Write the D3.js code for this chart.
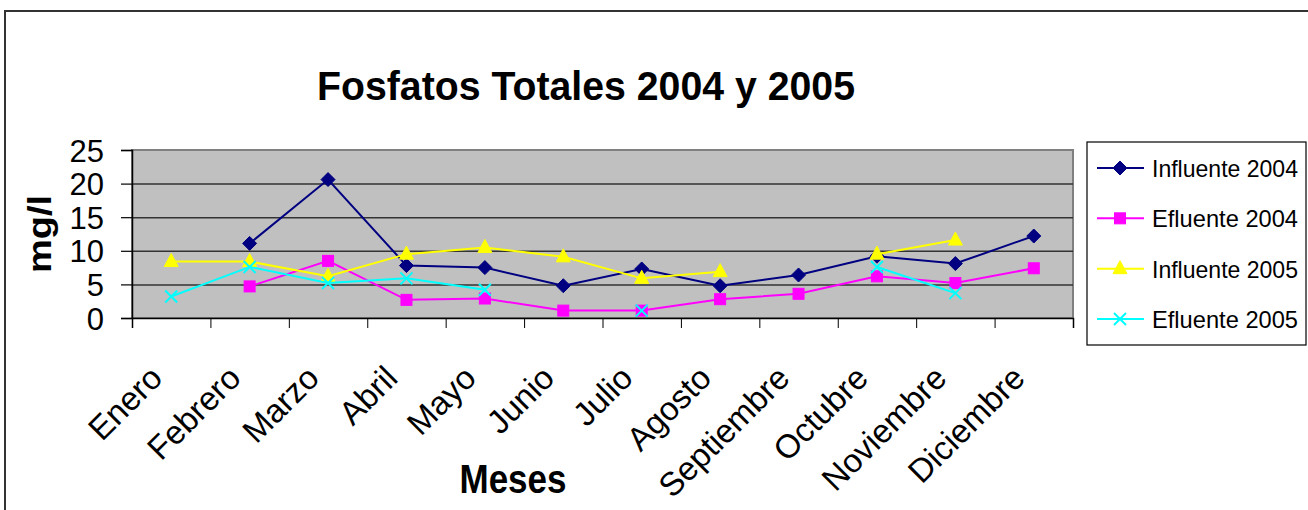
<!DOCTYPE html>
<html>
<head>
<meta charset="utf-8">
<script src="https://cdn.jsdelivr.net/npm/d3@7"></script>
<style>
  html, body { margin: 0; padding: 0; background: #fff; }
  svg { display: block; }
  text { font-family: "Liberation Sans", Arial, sans-serif; fill: #000; }
</style>
</head>
<body>
<svg id="chart" width="1308" height="510"></svg>
<script>
// ---- Data ----
const months = ["Enero","Febrero","Marzo","Abril","Mayo","Junio","Julio","Agosto","Septiembre","Octubre","Noviembre","Diciembre"];
const influente2004 = [null, 11.1, 20.6, 7.8, 7.5, 4.8, 7.3, 4.8, 6.4, 9.2, 8.1, 12.2];
const efluente2004  = [null, 4.7, 8.5, 2.7, 2.9, 1.1, 1.1, 2.8, 3.6, 6.2, 5.2, 7.4];
const influente2005 = [8.4, 8.4, 6.2, 9.5, 10.5, 9.1, 5.9, 6.9, null, 9.5, 11.6, null];
const efluente2005  = [3.2, 7.6, 5.2, 5.9, 4.2, null, 1.1, null, null, 7.6, 3.7, null];
const seriesNames = ["Influente 2004","Efluente 2004","Influente 2005","Efluente 2005"];
const yTicks = [0, 5, 10, 15, 20, 25];
const titleText = "Fosfatos Totales 2004 y 2005";
const xTitle = "Meses";
const yTitle = "mg/l";

const seriesValues = [influente2004, efluente2004, influente2005, efluente2005];
const colors = ["#000080", "#FF00FF", "#FFFF00", "#00FFFF"];
const markers = ["diamond", "square", "triangle", "x"];

// ---- Layout ----
const svg = d3.select("#chart");
const plot = { left: 132, right: 1073, top: 150, bottom: 318 };

// outer chart border
svg.append("rect")
  .attr("x", 5).attr("y", 11).attr("width", 1320).attr("height", 520)
  .attr("fill", "#fff").attr("stroke", "#333").attr("stroke-width", 2);

const x = d3.scaleBand().domain(months).range([plot.left, plot.right]).paddingInner(0).paddingOuter(0);
const xb = d3.scaleLinear().domain([0, months.length]).range([plot.left, plot.right]);
const y = d3.scaleLinear().domain([0, 25]).range([plot.bottom, plot.top]);

// plot area background
svg.append("rect")
  .attr("x", plot.left).attr("y", plot.top)
  .attr("width", plot.right - plot.left).attr("height", plot.bottom - plot.top)
  .attr("fill", "#C0C0C0").attr("stroke", "#808080").attr("stroke-width", 2);

// gridlines
const grid = svg.append("g").attr("transform", `translate(${plot.left},0)`)
  .call(d3.axisLeft(y).tickValues(yTicks.filter(v => v > 0 && v < 25)).tickSize(-(plot.right - plot.left)).tickFormat(""));
grid.select(".domain").remove();
grid.selectAll(".tick line").attr("stroke", "#333").attr("stroke-width", 1.5);

// y axis
const yAxis = svg.append("g").attr("transform", `translate(${plot.left},0)`)
  .call(d3.axisLeft(y).tickValues(yTicks).tickSize(11).tickPadding(17));
yAxis.select(".domain").attr("stroke", "#000").attr("stroke-width", 1.5);
yAxis.selectAll(".tick line").attr("stroke", "#000").attr("stroke-width", 1.2);
yAxis.selectAll(".tick text").attr("font-size", 31).attr("font-family", "Liberation Sans, Arial, sans-serif").attr("fill", "#000").attr("dy", "0.36em");

// x axis ticks (category boundaries)
const xAxisT = svg.append("g").attr("transform", `translate(0,${plot.bottom})`)
  .call(d3.axisBottom(xb).tickValues(d3.range(0, months.length + 1)).tickSize(10).tickFormat(""));
xAxisT.select(".domain").attr("stroke", "#000").attr("stroke-width", 1.5);
xAxisT.selectAll(".tick line").attr("stroke", "#000").attr("stroke-width", 1);

// x labels
const xAxisL = svg.append("g").attr("transform", `translate(0,${plot.bottom})`)
  .call(d3.axisBottom(x).tickSize(0).tickFormat(d => d));
xAxisL.select(".domain").remove();
xAxisL.selectAll(".tick text")
  .attr("font-size", 33).attr("font-family", "Liberation Sans, Arial, sans-serif").attr("fill", "#000")
  .attr("text-anchor", "end")
  .attr("x", 0).attr("y", 0).attr("dy", 0)
  .attr("transform", "translate(-7,62) rotate(-45)");

// title
svg.append("text").attr("x", 586).attr("y", 100).attr("text-anchor", "middle")
  .attr("font-size", 41).attr("font-weight", "bold")
  .attr("textLength", 538).attr("lengthAdjust", "spacingAndGlyphs")
  .text(titleText);

// axis titles
svg.append("text").attr("x", 513).attr("y", 493).attr("text-anchor", "middle")
  .attr("font-size", 40).attr("font-weight", "bold")
  .attr("textLength", 107).attr("lengthAdjust", "spacingAndGlyphs")
  .text(xTitle);

svg.append("text").attr("transform", "translate(51,234) rotate(-90)").attr("text-anchor", "middle")
  .attr("font-size", 34).attr("font-weight", "bold")
  .attr("textLength", 78).attr("lengthAdjust", "spacingAndGlyphs")
  .text(yTitle);

// marker drawing
function drawMarker(g, type, color, cx, cy) {
  if (type === "diamond") {
    g.append("path").attr("d", `M${cx},${cy-7}L${cx+7},${cy}L${cx},${cy+7}L${cx-7},${cy}Z`).attr("fill", color).attr("stroke", color);
  } else if (type === "square") {
    g.append("rect").attr("x", cx-5.5).attr("y", cy-5.5).attr("width", 11).attr("height", 11).attr("fill", color).attr("stroke", color);
  } else if (type === "triangle") {
    g.append("path").attr("d", `M${cx},${cy-8}L${cx+7},${cy+5}L${cx-7},${cy+5}Z`).attr("fill", color).attr("stroke", color);
  } else {
    g.append("path").attr("d", `M${cx-6},${cy-6}L${cx+6},${cy+6}M${cx-6},${cy+6}L${cx+6},${cy-6}`).attr("stroke", color).attr("stroke-width", 2).attr("fill", "none");
  }
}

// series
const line = d3.line()
  .defined(d => d.v !== null)
  .x(d => x(d.m) + x.bandwidth() / 2)
  .y(d => y(d.v));

seriesValues.forEach((vals, i) => {
  const data = months.map((m, j) => ({ m, v: vals[j] }));
  const g = svg.append("g");
  g.append("path").datum(data).attr("d", line)
    .attr("fill", "none").attr("stroke", colors[i]).attr("stroke-width", 2);
  data.filter(d => d.v !== null).forEach(d => {
    drawMarker(g, markers[i], colors[i], x(d.m) + x.bandwidth() / 2, y(d.v));
  });
});

// legend
const lg = svg.append("g");
lg.append("rect").attr("x", 1087).attr("y", 142).attr("width", 219).attr("height", 203)
  .attr("fill", "#fff").attr("stroke", "#000").attr("stroke-width", 1.2);
const legendY = d3.scalePoint().domain(seriesNames).range([168, 319]);
seriesNames.forEach((name, i) => {
  const ly = legendY(name);
  lg.append("line").attr("x1", 1097).attr("x2", 1144).attr("y1", ly).attr("y2", ly)
    .attr("stroke", colors[i]).attr("stroke-width", 2);
  drawMarker(lg, markers[i], colors[i], 1120, ly);
  lg.append("text").attr("x", 1152).attr("y", ly + 9)
    .attr("font-size", 24).attr("textLength", 146).attr("lengthAdjust", "spacingAndGlyphs")
    .text(name);
});
</script>
</body>
</html>
